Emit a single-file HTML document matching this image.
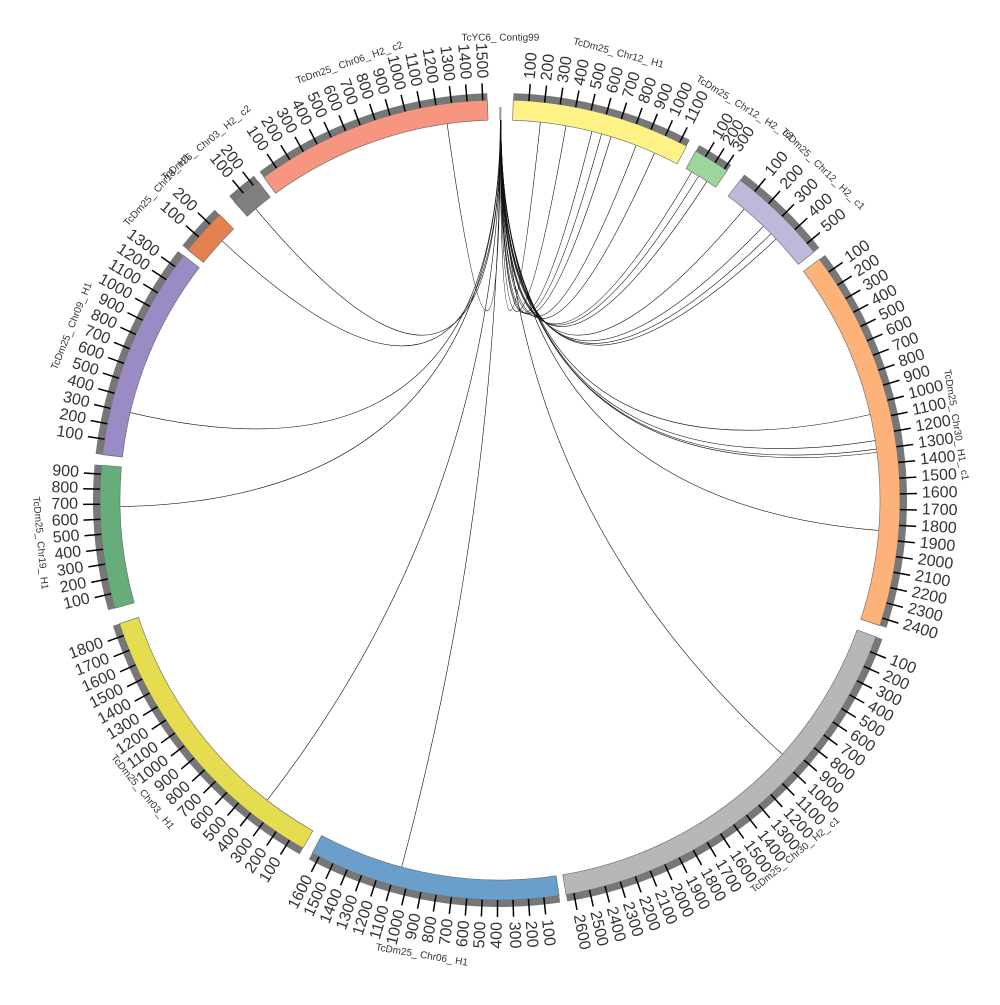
<!DOCTYPE html>
<html><head><meta charset="utf-8"><style>
html,body{margin:0;padding:0;background:#fff;}
svg text{font-family:"Liberation Sans",sans-serif;fill:#333;}
</style></head><body>
<svg id="s" xmlns="http://www.w3.org/2000/svg" width="1000" height="1000" viewBox="0 0 1000 1000">
<g id="links" fill="none" stroke="#111" stroke-width="0.6"></g>
<g id="segs"></g>
<g id="names" font-size="10">
<text>TcYC6_Contig99</text>
</g>
</svg>
<script>
var cx=500,cy=500,R0=380,R1=400,R2=407;
function P(r,a){a=a*Math.PI/180;return [cx+r*Math.sin(a),cy-r*Math.cos(a)];}
var segs=[
["TcYC6_Contig99",-0.1,0.2,"#999",0],
["TcDm25_Chr12_H1",1.9,27.8,"#fef286",1150],
["TcDm25_Chr12_H2_c2",29.3,34.6,"#9ed59d",330],
["TcDm25_Chr12_H2_c1",36.9,51.7,"#bdb9da",560],
["TcDm25_Chr30_H1_c1",53,108.3,"#fdb27a",2450],
["TcDm25_Chr30_H2_c1",110,170.5,"#b7b7b7",2650],
["TcDm25_Chr06_H1",171.5,208,"#6a9fcc",1650],
["TcDm25_Chr03_H1",209.5,252,"#e6dc50",1880],
["TcDm25_Chr19_H1",254.3,275,"#67ad7a",960],
["TcDm25_Chr09_H1",276.5,307.7,"#9b8bc4",1390],
["TcDm25_Chr18_H1",308.7,315.5,"#e5804f",280],
["TcDm25_Chr03_H2_c2",318.3,322.8,"#7f7f7f",250],
["TcDm25_Chr06_H2_c2",323.8,358.2,"#f69580",1530]
];
var html="";
function arc(r1,r2,a,b,fill,stroke){
 var p1=P(r2,a),p2=P(r2,b),p3=P(r1,b),p4=P(r1,a),l=(b-a)>180?1:0;
 return '<path d="M'+p1+' A'+r2+','+r2+' 0 '+l+' 1 '+p2+' L'+p3+' A'+r1+','+r1+' 0 '+l+' 0 '+p4+'Z" fill="'+fill+'" stroke="'+stroke+'" stroke-width="0.6"/>';
}
var nm="";
segs.forEach(function(s){
 var a=s[1],b=s[2],len=s[4];
 if(len>0){
  html+=arc(R0,R1,a,b,s[3],"#666");
  html+=arc(R1,R2,a,b,"#777","none");
  var per=(b-a)/len;
  for(var v=100;v<len;v+=100){
   var t=a+v*per,q1=P(R1,t),q2=P(417,t),q=P(422,t);
   html+='<line x1="'+q1[0]+'" y1="'+q1[1]+'" x2="'+q2[0]+'" y2="'+q2[1]+'" stroke="#000" stroke-width="1.5"/>';
   var right=(t%360)<180&&(t%360)>=0,rot=right?t-90:t+90;
   html+='<text x="'+q[0]+'" y="'+q[1]+'" font-size="16" dominant-baseline="middle" text-anchor="'+(right?'start':'end')+'" transform="rotate('+rot+' '+q[0]+' '+q[1]+')">'+v+'</text>';
  }
 } else {
  html+=arc(R0,393,a,b,s[3],"none");
 }
 var m=(a+b)/2,pp=P(462,m),flip=(m>90&&m<270),rr=flip?m+180:m;
 nm+='<text x="'+pp[0]+'" y="'+pp[1]+'" font-size="10" text-anchor="middle" dominant-baseline="middle" transform="rotate('+rr+' '+pp[0]+' '+pp[1]+')">'+s[0].replace(/_/g,"_ ")+'</text>';
});
document.getElementById("segs").innerHTML=html;
document.getElementById("names").innerHTML=nm;
var ends=[352,320,313,283.3,269,217.8,195,132,77,82.3,82.8,94.6,43.9,45.5,46.6,30.3,31.5,33,6.1,10,14,15.5,17,21,24,40,81];
var L="";
ends.forEach(function(e,i){
 var s=P(R0,0.05+(i%3)*0.05),t=P(R0,e);
 L+='<path d="M'+s+' Q'+cx+','+cy+' '+t+'"/>';
});
document.getElementById("links").innerHTML=L;
</script>
</body></html>
